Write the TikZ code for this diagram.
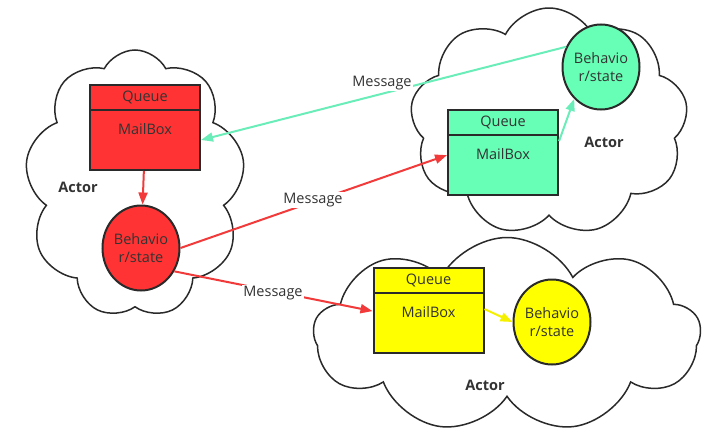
\documentclass[tikz,border=0pt]{standalone}
\usepackage{fontspec}
\setmainfont{Open Sans}
\usetikzlibrary{shapes.geometric,shapes.symbols,arrows.meta}
\definecolor{linegray}{HTML}{2A2A2A}
\definecolor{textgray}{HTML}{333333}
\definecolor{redfill}{HTML}{FF3333}
\definecolor{greenfill}{HTML}{66FFB5}
\definecolor{yellowfill}{HTML}{FFFF00}
\definecolor{redarrow}{HTML}{F23A3A}
\definecolor{greenarrow}{HTML}{6BEDB9}
\definecolor{yellowarrow}{HTML}{F5F000}
\begin{document}
\begin{tikzpicture}[x=1pt,y=-1pt]
        \tikzset{cloudy/.style={draw=linegray, line width=1.5pt, cloud, cloud puffs=9, cloud puff arc=125, cloud ignores aspect, inner sep=0pt},
                 queue/.style={draw=linegray, line width=2pt, minimum width=110pt, minimum height=25pt, inner sep=0pt, font=\fontsize{14.5}{16}\selectfont, text=textgray},
                 mailbox/.style={queue, minimum height=60pt, text height=24pt, text depth=36pt},
                 state/.style={draw=linegray, line width=2pt, ellipse, minimum width=77pt, minimum height=85pt, inner sep=0pt, align=center, font=\fontsize{14.5}{18}\selectfont, text=textgray},
                 actor/.style={font=\bfseries\fontsize{14.5}{16}\selectfont, text=textgray},
                 msg/.style={fill=white, inner sep=1pt, font=\fontsize{14.5}{16}\selectfont, text=textgray},
                 arr/.style={line width=2pt, -{Triangle[length=12pt,width=9pt]}}}
        \useasboundingbox (0,0) rectangle (726,439);
        \node [cloudy, minimum width=220pt, minimum height=268pt] (cl) at (135,184){};
        \node [cloudy, minimum width=278pt, minimum height=228pt] (cg) at (549,122){};
        \node [cloudy, minimum width=387pt, minimum height=195pt] (cy) at (507,335){};
        \node [queue, fill=redfill]      (rq) at (145,97.5){Queue};
        \node [mailbox, fill=redfill]    (rm) at (145,140){MailBox};
        \node [state, fill=redfill]      (rc) at (141,248){Behavio\\r/state};
        \node [queue, fill=greenfill]    (gq) at (503,122.5){Queue};
        \node [mailbox, fill=greenfill]  (gm) at (503,165){MailBox};
        \node [state, fill=greenfill]    (gc) at (601,67){Behavio\\r/state};
        \node [queue, fill=yellowfill]   (yq) at (428.5,280.5){Queue};
        \node [mailbox, fill=yellowfill] (ym) at (428.5,323){MailBox};
        \node [state, fill=yellowfill]   (yc) at (552,322){Behavio\\r/state};
        \draw [arr, greenarrow]  (gc.150) -- (rm.east);
        \draw [arr, redarrow]    (rm) -- (rc);
        \draw [arr, redarrow]    (rc.east) -- (gm.170);
        \draw [arr, redarrow]    (rc.-35) -- (ym.168);
        \draw [arr, greenarrow]  (gm.23) -- (gc.-130);
        \draw [arr, yellowarrow] (ym.14) -- (yc.west);
        \node [msg] (ma) at (382,83){Message};
        \node [msg] (mb) at (313,200){Message};
        \node [msg] (mc) at (273,293){Message};
        \node [actor] (al) at (78,187){Actor};
        \node [actor] (ag) at (604,142){Actor};
        \node [actor] (ay) at (485,385){Actor};
    \end{tikzpicture}
\end{document}
